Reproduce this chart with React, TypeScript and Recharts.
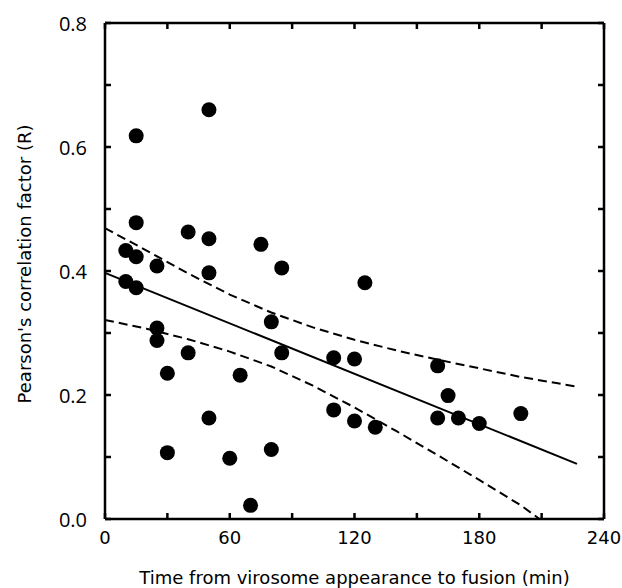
import { ScatterChart, Scatter, XAxis, YAxis, Label } from 'recharts';

// measured points: time from virosome appearance to fusion (min) vs Pearson's R
const timeMin = [10, 10, 15, 15, 15, 15, 25, 25, 25, 30, 30, 40, 40, 50, 50, 50, 50, 60, 65, 70, 75, 80, 80, 85, 85, 110, 110, 120, 120, 125, 130, 160, 160, 165, 170, 180, 200];
const pearsonR = [0.433, 0.383, 0.618, 0.478, 0.423, 0.373, 0.408, 0.308, 0.288, 0.235, 0.107, 0.463, 0.268, 0.66, 0.452, 0.397, 0.163, 0.098, 0.232, 0.022, 0.443, 0.318, 0.112, 0.405, 0.268, 0.26, 0.176, 0.258, 0.158, 0.381, 0.148, 0.247, 0.163, 0.199, 0.163, 0.154, 0.17];

// regression line
const fitX = [0, 227];
const fitY = [0.397, 0.089];

// confidence band (dashed)
const upperX = [0, 20, 40, 60, 80, 100, 120, 140, 160, 180, 200, 228];
const upperY = [0.469, 0.433, 0.396, 0.362, 0.333, 0.309, 0.289, 0.272, 0.257, 0.243, 0.229, 0.213];
const lowerX = [0, 20, 40, 60, 80, 100, 120, 140, 160, 180, 200, 209];
const lowerY = [0.321, 0.307, 0.29, 0.27, 0.246, 0.215, 0.18, 0.142, 0.103, 0.063, 0.022, 0];

const xTicks = [0, 30, 60, 90, 120, 150, 180, 210, 240];
const yTicks = [0, 0.1, 0.2, 0.3, 0.4, 0.5, 0.6, 0.7, 0.8];

const zip = (xs: number[], ys: number[]) => xs.map((x, i) => ({ x, y: ys[i] }));
const points = zip(timeMin, pearsonR);
const fit = zip(fitX, fitY);
const upper = zip(upperX, upperY);
const lower = zip(lowerX, lowerY);

const comic = '"DejaVu Sans", sans-serif';
const TICK = 6;

const isMajorX = (v: number) => v % 60 === 0;
const isMajorY = (v: number) => Math.round(v * 10) % 2 === 0;

// tickSize is 1 and tickMargin 0 on every axis, so the axis line sits 1px from (x, y)
function BottomTick({ x, y, payload }: any) {
  const ay = y - 1;
  return (
    <g>
      <line x1={x} y1={ay} x2={x} y2={ay - TICK} stroke="#000" strokeWidth={2.5} />
      {isMajorX(payload.value) && (
        <text x={x} y={ay + 25} textAnchor="middle" fontSize={18} fontFamily={comic} fill="#000">
          {payload.value}
        </text>
      )}
    </g>
  );
}

function TopTick({ x, y }: any) {
  const ay = y + 1;
  return <line x1={x} y1={ay} x2={x} y2={ay + TICK} stroke="#000" strokeWidth={2.5} />;
}

function LeftTick({ x, y, payload }: any) {
  const ax = x + 1;
  return (
    <g>
      <line x1={ax} y1={y} x2={ax + TICK} y2={y} stroke="#000" strokeWidth={2.5} />
      {isMajorY(payload.value) && (
        <text x={ax - 18} y={y + 8} textAnchor="end" fontSize={20} fontFamily='"Open Sans", sans-serif' fill="#000">
          {payload.value.toFixed(1)}
        </text>
      )}
    </g>
  );
}

function RightTick({ x, y }: any) {
  const ax = x - 1;
  return <line x1={ax} y1={y} x2={ax - TICK} y2={y} stroke="#000" strokeWidth={2.5} />;
}

const Dot = (props: any) => <circle cx={props.cx} cy={props.cy} r={7.5} fill="#000" />;
const NoDot = () => <g />;

const frame = { stroke: '#000', strokeWidth: 2.5 };

export default function App() {
  return (
    <div style={{ position: 'absolute', left: 0, top: 0, background: '#fff' }}>
      <ScatterChart width={622} height={588} margin={{ top: 22, right: 17, bottom: 0, left: 0 }}>
        <XAxis
          xAxisId="b"
          type="number"
          dataKey="x"
          domain={[0, 240]}
          ticks={xTicks}
          height={69}
          tickSize={1}
          tickMargin={0}
          tickLine={false}
          tick={<BottomTick />}
          axisLine={frame}
          interval={0}
        >
          <Label
            content={({ viewBox }: any) => (
              <text
                x={viewBox.x + viewBox.width / 2}
                y={viewBox.y + 65}
                textAnchor="middle"
                fontSize={18}
                fontFamily={comic}
                fill="#000"
              >
                Time from virosome appearance to fusion (min)
              </text>
            )}
          />
        </XAxis>
        <XAxis
          xAxisId="t"
          orientation="top"
          type="number"
          dataKey="x"
          domain={[0, 240]}
          ticks={xTicks}
          height={1}
          tickSize={1}
          tickMargin={0}
          tickLine={false}
          tick={<TopTick />}
          axisLine={frame}
          interval={0}
        />
        <YAxis
          yAxisId="l"
          type="number"
          dataKey="y"
          domain={[0, 0.8]}
          ticks={yTicks}
          width={105}
          tickSize={1}
          tickMargin={0}
          tickLine={false}
          tick={<LeftTick />}
          axisLine={frame}
          interval={0}
        >
          <Label
            content={({ viewBox }: any) => {
              const cx = 24;
              const cy = viewBox.y + viewBox.height / 2 - 7;
              return (
                <text
                  x={cx}
                  y={cy}
                  transform={`rotate(-90, ${cx}, ${cy})`}
                  textAnchor="middle"
                  dominantBaseline="central"
                  fontSize={18}
                  fontFamily={comic}
                  fill="#000"
                >
                  Pearson's correlation factor (R)
                </text>
              );
            }}
          />
        </YAxis>
        <YAxis
          yAxisId="r"
          orientation="right"
          type="number"
          dataKey="y"
          domain={[0, 0.8]}
          ticks={yTicks}
          width={1}
          tickSize={1}
          tickMargin={0}
          tickLine={false}
          tick={<RightTick />}
          axisLine={frame}
          interval={0}
        />
        <Scatter
          xAxisId="b"
          yAxisId="l"
          data={upper}
          line={{ stroke: '#000', strokeWidth: 2, strokeDasharray: '9 5' }}
          shape={NoDot}
          isAnimationActive={false}
        />
        <Scatter
          xAxisId="b"
          yAxisId="l"
          data={lower}
          line={{ stroke: '#000', strokeWidth: 2, strokeDasharray: '9 5' }}
          shape={NoDot}
          isAnimationActive={false}
        />
        <Scatter
          xAxisId="b"
          yAxisId="l"
          data={fit}
          line={{ stroke: '#000', strokeWidth: 2 }}
          shape={NoDot}
          isAnimationActive={false}
        />
        <Scatter xAxisId="b" yAxisId="l" data={points} shape={Dot} isAnimationActive={false} />
        {/* invisible series so the mirrored top/right axes are drawn */}
        <Scatter xAxisId="t" yAxisId="r" data={points} shape={NoDot} isAnimationActive={false} />
      </ScatterChart>
    </div>
  );
}
